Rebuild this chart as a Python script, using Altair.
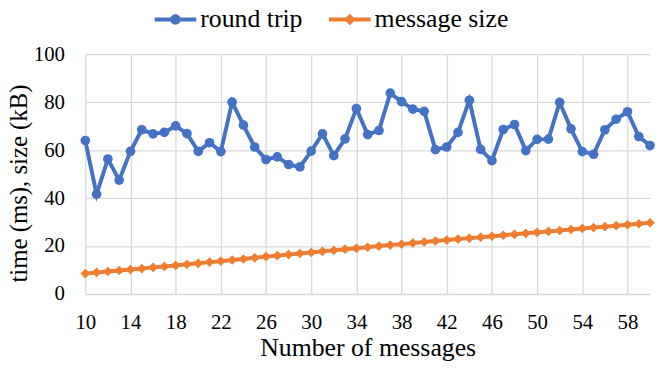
import altair as alt
import pandas as pd

messages = list(range(10, 61))
round_trip = [64.0, 41.6, 56.3, 47.5, 59.5, 68.5, 66.8, 67.4, 70.1, 66.9,
              59.5, 63.1, 59.4, 80.0, 70.4, 61.3, 56.1, 57.2, 54.0, 53.0,
              59.6, 66.8, 57.7, 64.7, 77.3, 66.5, 68.2, 83.8, 80.2, 77.1,
              76.2, 60.2, 61.3, 67.4, 80.8, 60.3, 55.6, 68.6, 70.7, 59.8,
              64.5, 64.6, 79.9, 68.9, 59.4, 58.3, 68.5, 72.9, 76.0, 65.7,
              61.9]
message_size = [8.5, 9.0, 9.4, 9.8, 10.2, 10.6, 11.1, 11.5, 11.9, 12.4,
                12.8, 13.3, 13.7, 14.2, 14.6, 15.1, 15.6, 16.0, 16.5, 16.9,
                17.3, 17.8, 18.2, 18.7, 19.1, 19.5, 20.0, 20.4, 20.8, 21.3,
                21.7, 22.1, 22.5, 22.9, 23.3, 23.7, 24.1, 24.5, 24.9, 25.3,
                25.7, 26.1, 26.5, 26.9, 27.3, 27.7, 28.1, 28.5, 28.9, 29.3,
                29.7]
series_names = ["round trip", "message size"]
series_colors = ["#4472C4", "#ED7D31"]
x_ticks = list(range(10, 60, 4))
y_ticks = [0, 20, 40, 60, 80, 100]

df = pd.concat([
    pd.DataFrame({"n": messages, "v": round_trip, "series": series_names[0]}),
    pd.DataFrame({"n": messages, "v": message_size, "series": series_names[1]}),
])
df["lg"] = df["series"]

FONT = "Liberation Serif"

circle_path = ("M-1,-0.095H-0.2V0.095H-1Z M0.2,-0.095H1V0.095H0.2Z "
               "M-0.25,0A0.25,0.25 0 1 1 0.25,0A0.25,0.25 0 1 1 -0.25,0Z")
diamond_path = ("M-1,-0.095H-0.2V0.095H-1Z M0.2,-0.095H1V0.095H0.2Z "
                "M0,-0.28L0.28,0L0,0.28L-0.28,0Z")

legend = alt.Legend(
    title=None,
    orient="none",
    legendX=70,
    legendY=-56,
    direction="horizontal",
    labelFont=FONT,
    labelFontSize=26,
    labelColor="#000000",
    labelOffset=4,
    columnPadding=26,
    padding=0,
    symbolSize=1764,
    symbolStrokeWidth=0,
    symbolOpacity=1,
)

x = alt.X("n:Q",
          scale=alt.Scale(domain=[10, 60], nice=False, zero=False),
          axis=alt.Axis(values=x_ticks, title="Number of messages",
                        grid=True, domain=False, ticks=False,
                        labelFlush=False, labelPadding=18,
                        titleY=62, titleBaseline="alphabetic"))
y = alt.Y("v:Q",
          scale=alt.Scale(domain=[0, 100], nice=False),
          axis=alt.Axis(values=y_ticks, title="time (ms), size (kB)",
                        grid=True, domain=False, ticks=False,
                        labelFlush=False, labelPadding=21,
                        titleX=-59, titleY=130, titleFontSize=25,
                        titleBaseline="alphabetic"))

color = alt.Color("series:N",
                  scale=alt.Scale(domain=series_names, range=series_colors),
                  legend=None)

base = alt.Chart(df)
lines = base.mark_line(strokeWidth=4).encode(x=x, y=y, color=color)
points = base.mark_point(filled=True, opacity=1, size=95).encode(
    x=x, y=y, color=color,
    shape=alt.Shape("series:N",
                    scale=alt.Scale(domain=series_names, range=["circle", "diamond"]),
                    legend=None))
legend_layer = base.mark_point(filled=True, opacity=0).encode(
    x=x, y=y,
    color=alt.Color("lg:N",
                    scale=alt.Scale(domain=series_names, range=series_colors),
                    legend=legend),
    shape=alt.Shape("lg:N",
                    scale=alt.Scale(domain=series_names, range=[circle_path, diamond_path]),
                    legend=legend))

chart = alt.layer(lines, points, legend_layer).resolve_scale(
    color="independent", shape="independent"
).properties(
    width=570, height=242,
    background="#ffffff",
    autosize=alt.AutoSizeParams(type="none"),
    padding={"left": 78, "top": 45, "right": 6, "bottom": 70},
).configure_view(stroke=None).configure_axis(
    labelFont=FONT, labelFontSize=21, labelColor="#000000",
    titleFont=FONT, titleFontSize=26, titleColor="#000000",
    titleFontWeight="normal",
    gridColor="#D9D9D9", gridWidth=1.3, gridOpacity=1,
)

chart.save("out.html", embed_options={"renderer": "svg", "actions": False})
